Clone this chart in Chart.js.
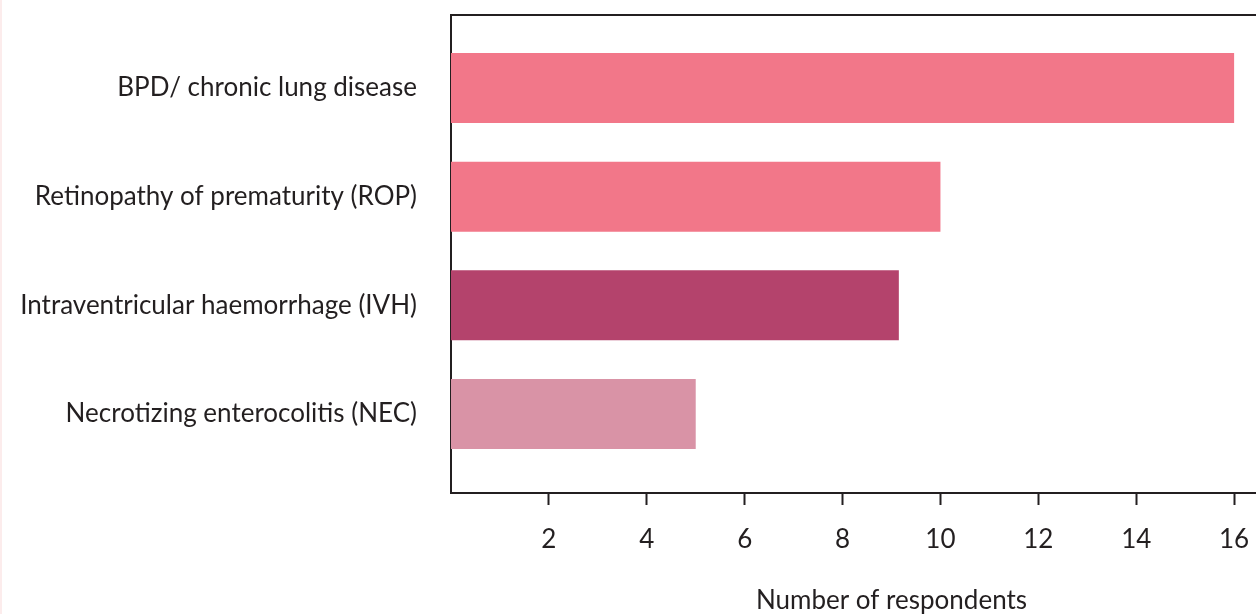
<!DOCTYPE html>
<html>
<head>
<meta charset="utf-8">
<script src="https://cdn.jsdelivr.net/npm/chart.js@4.4.1/dist/chart.umd.min.js"></script>
<style>
  html, body { margin: 0; padding: 0; background: #ffffff; overflow: hidden; }
  #frame { position: relative; width: 1256px; height: 614px; overflow: hidden; }
  #wrap { position: absolute; left: 0; top: 0; width: 1332px; height: 632px; }
  #edge { position: absolute; left: 0; top: 0; width: 2px; height: 614px; background: #fcecec; }
</style>
</head>
<body>
<div id="frame">
  <div id="wrap"><canvas id="chart"></canvas></div>
  <div id="edge"></div>
</div>
<script>
// Complications reported by respondents
const categories = [
  'BPD/ chronic lung disease',
  'Retinopathy of prematurity (ROP)',
  'Intraventricular haemorrhage (IVH)',
  'Necrotizing enterocolitis (NEC)'
];
const respondents = [16, 10, 9.15, 5];
const barColors = ['#f27789', '#f27789', '#b4436c', '#d993a6'];
const xTicks = [2, 4, 6, 8, 10, 12, 14, 16];
const xTitle = 'Number of respondents';

const ink = '#231f20';
const fontFamily = "Lato, 'Open Sans', sans-serif";
const fontSize = 26;

new Chart(document.getElementById('chart'), {
  type: 'bar',
  data: {
    datasets: [{
      data: respondents.map((v, i) => ({ x: v, y: i })),
      backgroundColor: barColors,
      borderWidth: 0,
      categoryPercentage: 1,
      barPercentage: 0.644
    }]
  },
  options: {
    indexAxis: 'y',
    responsive: true,
    maintainAspectRatio: false,
    animation: false,
    layout: { padding: 0 },
    plugins: { legend: { display: false }, tooltip: { enabled: false } },
    scales: {
      x: {
        type: 'linear',
        position: 'bottom',
        min: 0,
        max: 18,
        afterBuildTicks: s => { s.ticks = xTicks.map(v => ({ value: v })); },
        afterFit: s => { s.height = 632 - 493; },
        grid: {
          drawOnChartArea: false,
          drawTicks: true,
          tickLength: 12,
          tickWidth: 2,
          tickColor: ink
        },
        border: { display: true, color: ink, width: 2 },
        ticks: {
          color: ink,
          padding: 19,
          maxRotation: 0,
          font: { family: fontFamily, size: fontSize }
        },
        title: {
          display: true,
          text: xTitle,
          color: ink,
          font: { family: fontFamily, size: fontSize },
          padding: { top: 0, bottom: 16 }
        }
      },
      xTop: {
        type: 'linear',
        position: 'top',
        min: 0,
        max: 18,
        afterFit: s => { s.height = 15; },
        grid: { display: false, drawTicks: false },
        border: { display: true, color: ink, width: 2 },
        ticks: { display: false }
      },
      y: {
        type: 'linear',
        reverse: true,
        offset: false,
        min: -0.672,
        max: 3.727,
        afterBuildTicks: s => { s.ticks = categories.map((c, i) => ({ value: i })); },
        afterFit: s => { s.width = 451; s.paddingTop = 0; s.paddingBottom = 0; },
        grid: { display: false, drawTicks: false, offset: false },
        border: { display: true, color: ink, width: 2 },
        ticks: {
          color: ink,
          padding: 34,
          font: { family: fontFamily, size: fontSize },
          callback: v => categories[v]
        }
      }
    }
  }
});
</script>
</body>
</html>
